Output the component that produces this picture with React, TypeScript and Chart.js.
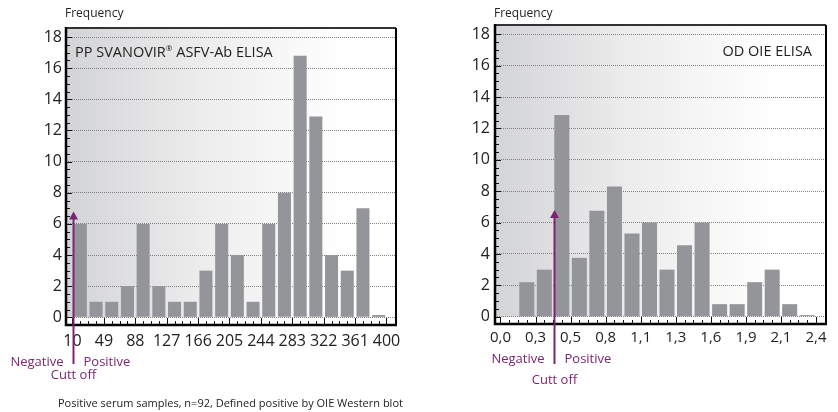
import React, { useEffect, useRef } from 'react';
import { Chart, registerables } from 'chart.js';

Chart.register(...registerables);

const FONT = '"Open Sans", "DejaVu Sans", sans-serif';

// ---------- data ----------
const yTickValues = [0, 2, 4, 6, 8, 10, 12, 14, 16, 18];

const leftTitle = ['PP SVANOVIR', '®', ' ASFV-Ab ELISA'];
const leftTickValues = [10, 49, 88, 127, 166, 205, 244, 283, 322, 361, 400];
const leftTickLabels = ['10', '49', '88', '127', '166', '205', '244', '283', '322', '361', '400'];
const leftFrequency = [6, 1, 1, 2, 6, 2, 1, 1, 3, 6, 4, 1, 6, 8, 16.8, 12.9, 4, 3, 7, 0.15];
const leftCutoff = 11;

const rightTitle = ['OD OIE ELISA'];
const rightTickValues = [0, 0.267, 0.533, 0.8, 1.067, 1.333, 1.6, 1.867, 2.133, 2.4];
const rightTickLabels = ['0,0', '0,3', '0,5', '0,8', '1,1', '1,3', '1,6', '1,9', '2,1', '2,4'];
const rightFrequency = [0, 2.2, 3, 12.85, 3.75, 6.75, 8.3, 5.3, 6, 3, 4.55, 6, 0.8, 0.8, 2.2, 3, 0.8, 0.1];
const rightCutoff = 0.41;

const cutoffArrowTop = 6.8;
const yLabel = 'Frequency';
const negativeLabel = 'Negative';
const positiveLabel = 'Positive';
const cutoffLabel = 'Cutt off';
const footnote = 'Positive serum samples, n=92, Defined positive by OIE Western blot';

// ---------- helpers ----------
// two bins per labelled interval; bar sits at each bin's middle
function binCenters(edges: number[]): number[] {
  const out: number[] = [];
  for (let i = 0; i < edges.length - 1; i++) {
    const a = edges[i];
    const b = edges[i + 1];
    out.push(a + (b - a) * 0.25, a + (b - a) * 0.75);
  }
  return out;
}

type Geo = {
  yWidth: number; padTop: number; padRight: number; xHeight: number;
  xMin: number; xMax: number; yMin: number; yMax: number;
  xPad: number; yPad: number; xFont: number; barPct: number;
  titleAlign: 'left' | 'right'; titleDx: number; titleY: number;
  arrowBelow: number; negY: number; cutY: number;
};

type Panel = {
  title: string[]; ticks: number[]; labels: string[]; freq: number[]; cutoff: number; geo: Geo;
};

const PURPLE = '#7c2472';
const BAR = '#949599';
const TEXT = '#222222';

function drawTitle(ctx: any, parts: string[], x: number, y: number, align: 'left' | 'right') {
  const big = `14.5px ${FONT}`;
  const small = `8px ${FONT}`;
  const widths = parts.map((s, i) => {
    ctx.font = i === 1 ? small : big;
    return ctx.measureText(s).width;
  });
  const total = widths.reduce((a, b) => a + b, 0);
  let cx = align === 'left' ? x : x - total;
  ctx.textAlign = 'left';
  parts.forEach((s, i) => {
    ctx.font = i === 1 ? small : big;
    ctx.fillText(s, cx, i === 1 ? y - 4 : y);
    cx += widths[i];
  });
}

function panelPlugin(p: Panel) {
  const g = p.geo;
  return {
    id: 'panelDecor',
    beforeDraw(chart: any) {
      const { ctx, chartArea: a, scales } = chart;
      const y0 = scales.y.getPixelForValue(0);
      ctx.save();
      const grad = ctx.createLinearGradient(a.left, 0, a.right, 0);
      grad.addColorStop(0, '#d3d4d6');
      grad.addColorStop(0.4, '#ececed');
      grad.addColorStop(0.85, '#ffffff');
      grad.addColorStop(1, '#ffffff');
      ctx.fillStyle = grad;
      ctx.fillRect(a.left, a.top, a.right - a.left, y0 - a.top);
      ctx.restore();
    },
    afterDraw(chart: any) {
      const { ctx, chartArea: a, scales } = chart;
      const xs = scales.x;
      const ys = scales.y;
      ctx.save();

      // tick marks on x axis (major at labels, minor at half bins)
      ctx.strokeStyle = '#111';
      ctx.lineWidth = 1;
      ctx.beginPath();
      for (let i = 0; i < p.ticks.length; i++) {
        const px = Math.round(xs.getPixelForValue(p.ticks[i])) + 0.5;
        ctx.moveTo(px, a.bottom);
        ctx.lineTo(px, a.bottom - 7);
        if (i < p.ticks.length - 1) {
          for (let k = 1; k < 4; k++) {
            const v = p.ticks[i] + ((p.ticks[i + 1] - p.ticks[i]) * k) / 4;
            const q = Math.round(xs.getPixelForValue(v)) + 0.5;
            ctx.moveTo(q, a.bottom);
            ctx.lineTo(q, a.bottom - 4);
          }
        }
      }
      // tick marks on y axis
      for (let i = 0; i < yTickValues.length; i++) {
        const py = Math.round(ys.getPixelForValue(yTickValues[i])) + 0.5;
        ctx.moveTo(a.left, py);
        ctx.lineTo(a.left + 6, py);
        if (i < yTickValues.length - 1) {
          for (let k = 1; k < 4; k++) {
            const v = yTickValues[i] + ((yTickValues[i + 1] - yTickValues[i]) * k) / 4;
            const q = Math.round(ys.getPixelForValue(v)) + 0.5;
            ctx.moveTo(a.left, q);
            ctx.lineTo(a.left + 4, q);
          }
        }
      }
      ctx.stroke();

      // frame
      ctx.strokeStyle = '#333';
      ctx.lineWidth = 2;
      ctx.beginPath();
      ctx.moveTo(a.left, a.top);
      ctx.lineTo(a.right, a.top);
      ctx.stroke();
      ctx.strokeStyle = '#000';
      ctx.beginPath();
      ctx.moveTo(a.right, a.top);
      ctx.lineTo(a.right, a.bottom);
      ctx.stroke();
      ctx.lineWidth = 2.5;
      ctx.beginPath();
      ctx.moveTo(a.left, a.top - 1);
      ctx.lineTo(a.left, a.bottom);
      ctx.lineTo(a.right + 1, a.bottom);
      ctx.stroke();

      // texts
      ctx.fillStyle = TEXT;
      ctx.textBaseline = 'middle';
      ctx.font = `12px ${FONT}`;
      ctx.textAlign = 'left';
      ctx.fillText(yLabel, a.left - 1, 14);

      if (g.titleAlign === 'left') {
        drawTitle(ctx, p.title, a.left + g.titleDx, g.titleY, 'left');
      } else {
        drawTitle(ctx, p.title, a.right - g.titleDx, g.titleY, 'right');
      }

      // cut-off arrow
      const ax = Math.round(xs.getPixelForValue(p.cutoff)) + 0.5;
      const tip = ys.getPixelForValue(cutoffArrowTop);
      ctx.strokeStyle = PURPLE;
      ctx.fillStyle = PURPLE;
      ctx.lineWidth = 2;
      ctx.beginPath();
      ctx.moveTo(ax, tip + 6);
      ctx.lineTo(ax, a.bottom + g.arrowBelow);
      ctx.stroke();
      ctx.beginPath();
      ctx.moveTo(ax, tip);
      ctx.lineTo(ax - 4.5, tip + 8);
      ctx.lineTo(ax + 4.5, tip + 8);
      ctx.closePath();
      ctx.fill();

      ctx.font = `13px ${FONT}`;
      ctx.textAlign = 'right';
      ctx.fillText(negativeLabel, ax - 10, a.bottom + g.negY);
      ctx.textAlign = 'left';
      ctx.fillText(positiveLabel, ax + 10, a.bottom + g.negY);
      ctx.textAlign = 'center';
      ctx.fillText(cutoffLabel, ax, a.bottom + g.cutY);

      ctx.restore();
    },
  };
}

function makeConfig(p: Panel): any {
  const g = p.geo;
  const centers = binCenters(p.ticks);
  return {
    type: 'bar',
    data: {
      datasets: [
        {
          data: p.freq.map((v, i) => ({ x: centers[i], y: v })),
          backgroundColor: BAR,
          borderWidth: 0,
          barPercentage: g.barPct,
          categoryPercentage: 1,
        },
      ],
    },
    options: {
      animation: false,
      responsive: false,
      events: [],
      layout: { padding: { top: g.padTop, right: g.padRight, left: 0, bottom: 0 } },
      plugins: { legend: { display: false }, tooltip: { enabled: false }, title: { display: false } },
      scales: {
        x: {
          type: 'linear',
          min: g.xMin,
          max: g.xMax,
          offset: false,
          grid: { display: false, offset: false, drawTicks: false },
          border: { display: false },
          afterBuildTicks: (s: any) => {
            s.ticks = p.ticks.map((v) => ({ value: v }));
          },
          afterFit: (s: any) => {
            s.height = g.xHeight;
          },
          ticks: {
            autoSkip: false,
            maxRotation: 0,
            minRotation: 0,
            padding: g.xPad,
            color: TEXT,
            font: { family: FONT, size: g.xFont },
            callback: (_v: any, i: number) => p.labels[i],
          },
        },
        y: {
          type: 'linear',
          min: g.yMin,
          max: g.yMax,
          grid: { color: '#808080', lineWidth: 1, drawTicks: false },
          border: { display: false, dash: [1, 1] },
          afterBuildTicks: (s: any) => {
            s.ticks = yTickValues.map((v) => ({ value: v }));
          },
          afterFit: (s: any) => {
            s.width = g.yWidth;
          },
          ticks: {
            padding: g.yPad,
            color: TEXT,
            font: { family: FONT, size: 16 },
            callback: (v: any) => String(v),
          },
        },
      },
    },
    plugins: [panelPlugin(p)],
  };
}

const leftPanel: Panel = {
  title: leftTitle,
  ticks: leftTickValues,
  labels: leftTickLabels,
  freq: leftFrequency,
  cutoff: leftCutoff,
  geo: {
    yWidth: 66, padTop: 28, padRight: 23, xHeight: 87,
    xMin: 1.93, xMax: 411.8, yMin: -0.49, yMax: 18.58,
    xPad: 7, yPad: 4, xFont: 16, barPct: 0.83,
    titleAlign: 'left', titleDx: 9, titleY: 53,
    arrowBelow: 39, negY: 37, cutY: 50,
  },
};

const rightPanel: Panel = {
  title: rightTitle,
  ticks: rightTickValues,
  labels: rightTickLabels,
  freq: rightFrequency,
  cutoff: rightCutoff,
  geo: {
    yWidth: 76, padTop: 25, padRight: 12, xHeight: 88,
    xMin: -0.0418, xMax: 2.476, yMin: -0.465, yMax: 18.59,
    xPad: 5, yPad: 5, xFont: 15, barPct: 0.86,
    titleAlign: 'right', titleDx: 14, titleY: 52,
    arrowBelow: 40, negY: 35, cutY: 56,
  },
};

function PanelChart({ panel, left }: { panel: Panel; left: number }) {
  const ref = useRef<HTMLCanvasElement | null>(null);
  useEffect(() => {
    if (!ref.current) return;
    const chart = new Chart(ref.current, makeConfig(panel));
    return () => chart.destroy();
  }, [panel]);
  return (
    <canvas
      ref={ref}
      width={419}
      height={412}
      style={{ position: 'absolute', left, top: 0, width: 419, height: 412 }}
    />
  );
}

export default function App() {
  return (
    <div style={{ position: 'absolute', left: 0, top: 0, width: 838, height: 412, background: '#fff' }}>
      <PanelChart panel={leftPanel} left={0} />
      <PanelChart panel={rightPanel} left={419} />
      <div
        style={{
          position: 'absolute',
          left: 58,
          top: 395,
          fontFamily: FONT,
          fontSize: 11,
          lineHeight: '16px',
          color: TEXT,
          whiteSpace: 'nowrap',
        }}
      >
        {footnote}
      </div>
    </div>
  );
}
